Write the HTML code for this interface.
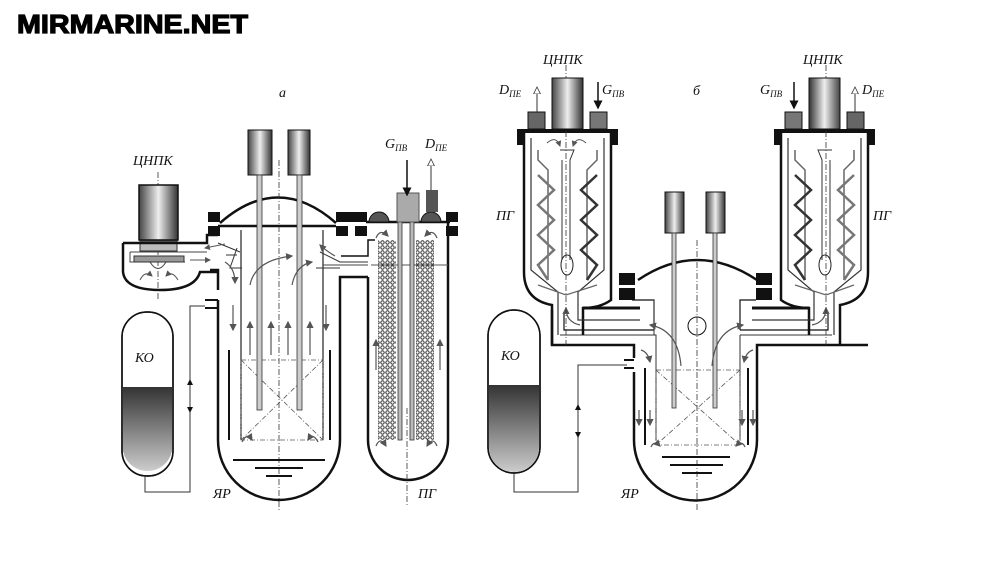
<!DOCTYPE html>
<html><head><meta charset="utf-8"><style>
html,body{margin:0;padding:0;background:#fff;width:1000px;height:580px;overflow:hidden}
svg{display:block}
.lb{font-family:"Liberation Serif",serif;font-style:italic;font-size:14px;fill:#111}
.sub{font-size:9px}
</style></head><body>
<svg width="1000" height="580" viewBox="0 0 1000 580" xmlns="http://www.w3.org/2000/svg">
<defs>
<linearGradient id="cyl" x1="0" x2="1"><stop offset="0" stop-color="#444"/><stop offset=".5" stop-color="#eee"/><stop offset="1" stop-color="#333"/></linearGradient>
<linearGradient id="ko" x1="0" y1="0" x2="0" y2="1"><stop offset="0" stop-color="#333"/><stop offset="1" stop-color="#ccc"/></linearGradient>
<marker id="ar" markerWidth="6" markerHeight="6" refX="5" refY="3" orient="auto"><path d="M0,0L6,3L0,6z" fill="#555"/></marker>
<marker id="ab" markerWidth="6" markerHeight="6" refX="5" refY="3" orient="auto"><path d="M0,0L6,3L0,6z" fill="#111"/></marker>
<marker id="aw" markerWidth="8" markerHeight="8" refX="6" refY="4" orient="auto"><path d="M0,0.5L7,4L0,7.5z" fill="#fff" stroke="#333" stroke-width="0.8"/></marker>
<pattern id="dots" width="5" height="5" patternUnits="userSpaceOnUse"><circle cx="2.5" cy="2.5" r="1.7" fill="none" stroke="#333" stroke-width="1"/></pattern>
</defs>
<text x="17" y="33" font-family="Liberation Sans,sans-serif" font-weight="bold" font-size="26" stroke="#000" stroke-width="1.2" textLength="231" lengthAdjust="spacingAndGlyphs">MIRMARINE.NET</text>

<!-- ===== (a) ===== -->
<text class="lb" x="279" y="97">a</text>
<rect x="122" y="312" width="51" height="164" rx="25" fill="#fff" stroke="#111" stroke-width="1.5"/>
<path d="M123,387H172V451A25,25 0 0 1 123,451Z" fill="url(#ko)"/>
<rect x="122" y="312" width="51" height="164" rx="25" fill="none" stroke="#111" stroke-width="1.5"/>
<text class="lb" x="135" y="362">КО</text>
<path d="M145,476V492H190V306H205" fill="none" stroke="#333" stroke-width="1"/>
<path d="M190,390V380" stroke="#333" marker-end="url(#ab)"/>
<path d="M190,400V412" stroke="#333" marker-end="url(#ab)"/>
<path d="M218,300V440A61,60 0 0 0 340,440V277H368" fill="none" stroke="#111" stroke-width="2.5"/>
<path d="M205,300H218M205,308H218" stroke="#111" stroke-width="2"/>
<path d="M218,290V270H210" fill="none" stroke="#111" stroke-width="2.5"/>
<path d="M220,223Q278,172 336,223" fill="none" stroke="#111" stroke-width="2.5"/>
<path d="M218,226H336" stroke="#111" stroke-width="2.5"/>
<rect x="208" y="212" width="12" height="10" fill="#111"/><rect x="208" y="226" width="12" height="10" fill="#111"/>
<rect x="336" y="212" width="12" height="10" fill="#111"/><rect x="336" y="226" width="12" height="10" fill="#111"/>
<rect x="355" y="212" width="12" height="10" fill="#111"/><rect x="355" y="226" width="12" height="10" fill="#111"/>
<path d="M241,230V440M323,230V440" stroke="#222" stroke-width="1.2"/>
<path d="M229,350V440M330,350V440" stroke="#111" stroke-width="2"/>
<path d="M241,360H323V440H241ZM241,360L323,440M323,360L241,440" fill="none" stroke="#555" stroke-dasharray="5,2,1,2" stroke-width="0.8"/>
<path d="M279,160V510" stroke="#333" stroke-dasharray="6,2,1,2" stroke-width="0.8"/>
<path d="M242,268H230L237,248M316,268H340" fill="none" stroke="#333" stroke-width="1"/>
<path d="M237,255H226M240,252L218,243" fill="none" stroke="#333"/>
<path d="M320,252L340,262H368" fill="none" stroke="#333"/>
<path d="M323,265H368" stroke="#444"/>
<line x1="233" y1="460" x2="325" y2="460" stroke="#111" stroke-width="2"/>
<line x1="255" y1="468" x2="303" y2="468" stroke="#111" stroke-width="2"/>
<line x1="266" y1="476" x2="292" y2="476" stroke="#111" stroke-width="2"/>
<rect x="248" y="130" width="24" height="45" fill="url(#cyl)" stroke="#111"/>
<rect x="288" y="130" width="22" height="45" fill="url(#cyl)" stroke="#111"/>
<rect x="257" y="175" width="5" height="235" fill="#ccc" stroke="#333" stroke-width=".8"/>
<rect x="297" y="175" width="5" height="235" fill="#ccc" stroke="#333" stroke-width=".8"/>
<g stroke="#555" stroke-width="1.2" fill="none" marker-end="url(#ar)">
<path d="M233,305V330"/><path d="M326,305V330"/>
<path d="M250,355V322"/><path d="M271,355V322"/><path d="M288,355V322"/><path d="M310,355V322"/>
<path d="M250,285Q255,260 292,256"/><path d="M292,285Q296,265 312,262"/>
<path d="M225,262Q235,268 235,283"/><path d="M335,256Q325,250 320,245"/>
<path d="M242,442Q247,432 252,440"/><path d="M318,442Q313,432 308,440"/>
<path d="M376,370V340"/><path d="M440,370V340"/>
<path d="M376,446Q380,436 386,446"/><path d="M437,446Q433,436 427,446"/>
<path d="M376,238Q380,228 388,236"/><path d="M437,238Q433,228 425,236"/>
</g>
<text class="lb" x="133" y="165">ЦНПК</text>
<path d="M158,172V300" stroke="#333" stroke-dasharray="6,2,1,2" stroke-width="0.8"/>
<rect x="139" y="185" width="39" height="55" fill="url(#cyl)" stroke="#111" stroke-width="1.5"/>
<rect x="140" y="241" width="37" height="10" fill="#bbb" stroke="#333"/>
<path d="M123,243H207V235H218M123,243V272Q125,290 160,290Q195,290 200,272H218" fill="none" stroke="#111" stroke-width="2.5"/>
<path d="M130,252H207M130,252V262H150Q158,275 166,262H185" fill="none" stroke="#444"/>
<rect x="134" y="256" width="50" height="6" fill="#999" stroke="#333"/>
<g stroke="#555" fill="none" marker-end="url(#ar)"><path d="M190,260H210"/><path d="M225,244L205,248"/><path d="M140,280Q145,270 152,276"/><path d="M178,280Q172,270 166,276"/></g>
<path d="M368,277V440A40,40 0 0 0 448,440V222" fill="none" stroke="#111" stroke-width="2.5"/>
<path d="M366,222H450" stroke="#111" stroke-width="2.5"/>
<rect x="346" y="212" width="12" height="10" fill="#111"/><rect x="446" y="212" width="12" height="10" fill="#111"/><rect x="446" y="226" width="12" height="10" fill="#111"/>
<path d="M341,256H368V240H375" fill="none" stroke="#111" stroke-width="1.5"/>
<path d="M371,265H448" stroke="#555"/>
<rect x="378" y="240" width="18" height="200" fill="url(#dots)"/>
<rect x="416" y="240" width="18" height="200" fill="url(#dots)"/>
<rect x="398" y="222" width="4" height="218" fill="#bbb" stroke="#333" stroke-width=".8"/>
<rect x="410" y="222" width="4" height="218" fill="#bbb" stroke="#333" stroke-width=".8"/>
<path d="M369,222A10,10 0 0 1 389,222Z" fill="#555" stroke="#111"/>
<path d="M421,222A10,10 0 0 1 441,222Z" fill="#555" stroke="#111"/>
<rect x="397" y="193" width="22" height="29" fill="#aaa" stroke="#555"/>
<rect x="426" y="190" width="12" height="22" fill="#555"/>
<path d="M407,408V505" stroke="#333" stroke-dasharray="6,2,1,2" stroke-width="0.8"/>
<path d="M407,160V195" stroke="#111" stroke-width="1.5" marker-end="url(#ab)"/>
<path d="M431,190V160" stroke="#333" stroke-width="1" marker-end="url(#aw)"/>
<text class="lb" x="385" y="148">G<tspan class="sub" dy="3">ПВ</tspan></text>
<text class="lb" x="425" y="148">D<tspan class="sub" dy="3">ПЕ</tspan></text>
<text class="lb" x="213" y="498">ЯР</text>
<text class="lb" x="418" y="498">ПГ</text>

<!-- ===== (б) ===== -->
<text class="lb" x="693" y="95">б</text>
<rect x="488" y="310" width="52" height="163" rx="26" fill="#fff" stroke="#111" stroke-width="1.5"/>
<path d="M489,385H539V447A25,25 0 0 1 489,447Z" fill="url(#ko)"/>
<rect x="488" y="310" width="52" height="163" rx="26" fill="none" stroke="#111" stroke-width="1.5"/>
<text class="lb" x="501" y="360">КО</text>
<path d="M514,473V492H578V365H627" fill="none" stroke="#333"/>
<path d="M578,415V405" stroke="#333" marker-end="url(#ab)"/>
<path d="M578,425V437" stroke="#333" marker-end="url(#ab)"/>
<path d="M624,360H634M624,368H634" stroke="#111" stroke-width="2"/>
<path d="M634,372V440A61,60 0 0 0 757,440V345H868" fill="none" stroke="#111" stroke-width="2.5"/>
<path d="M634,358V345H552V310" fill="none" stroke="#111" stroke-width="2.5"/>
<path d="M638,280Q697,240 757,280" fill="none" stroke="#111" stroke-width="2.5"/>
<rect x="619" y="273" width="16" height="12" fill="#111"/><rect x="619" y="288" width="16" height="12" fill="#111"/>
<rect x="756" y="273" width="16" height="12" fill="#111"/><rect x="756" y="288" width="16" height="12" fill="#111"/>
<path d="M632,300H654V330H564V312M740,330H828V312M740,330V300H756" fill="none" stroke="#111" stroke-width="1.2"/>
<path d="M560,335H656V440M654,335V300M740,335V440M740,335H832" fill="none" stroke="#333"/>
<path d="M645,368V445M748,368V445" stroke="#111" stroke-width="2"/>
<path d="M656,370H740V445H656ZM656,370L740,445M740,370L656,445" fill="none" stroke="#555" stroke-dasharray="5,2,1,2" stroke-width="0.8"/>
<path d="M697,240V510" stroke="#333" stroke-dasharray="6,2,1,2" stroke-width="0.8"/>
<circle cx="697" cy="326" r="9" fill="none" stroke="#111"/>
<line x1="662" y1="457" x2="730" y2="457" stroke="#111" stroke-width="2"/>
<line x1="670" y1="465" x2="723" y2="465" stroke="#111" stroke-width="2"/>
<line x1="682" y1="473" x2="712" y2="473" stroke="#111" stroke-width="2"/>
<rect x="665" y="192" width="19" height="41" fill="url(#cyl)" stroke="#111"/>
<rect x="706" y="192" width="19" height="41" fill="url(#cyl)" stroke="#111"/>
<rect x="672" y="233" width="4" height="175" fill="#ccc" stroke="#333" stroke-width=".8"/>
<rect x="713" y="233" width="4" height="175" fill="#ccc" stroke="#333" stroke-width=".8"/>
<g stroke="#555" stroke-width="1.2" fill="none" marker-end="url(#ar)">
<path d="M681,366Q678,330 650,325"/><path d="M712,366Q715,330 743,325"/>
<path d="M641,350Q648,352 650,362"/><path d="M753,350Q746,352 744,362"/>
<path d="M639,410V425"/><path d="M650,410V425"/><path d="M742,410V425"/><path d="M753,410V425"/>
<path d="M651,447Q654,440 660,446"/><path d="M745,447Q742,440 736,446"/>
<path d="M580,325Q566,322 566,308"/><path d="M812,325Q826,322 826,308"/>
</g>
<g id="sg">
<path d="M524,133V272Q524,300 552,305V345M611,133V300Q600,308 583,308V335" fill="none" stroke="#111" stroke-width="2.5"/>
<path d="M583,308H640" stroke="#111" stroke-width="3"/>
<path d="M531,138V270L558,292V335M604,138V270L578,292V320H640" fill="none" stroke="#333" stroke-width="1.2"/>
<rect x="517" y="129" width="101" height="4" fill="#111"/>
<rect x="517" y="133" width="7" height="12" fill="#111"/><rect x="611" y="133" width="7" height="12" fill="#111"/>
<path d="M538,150V160L548,170V280M597,150V160L587,170V280" fill="none" stroke="#666" stroke-width="1.5"/>
<path d="M538,175L554,190L538,205L554,220L538,235L554,250L538,265L548,280" fill="none" stroke="#777" stroke-width="2.5"/>
<path d="M597,175L581,190L597,205L581,220L597,235L581,250L597,265L587,280" fill="none" stroke="#333" stroke-width="2.5"/>
<path d="M538,285L566,295L597,285" fill="none" stroke="#666" stroke-width="1.2"/>
<path d="M560,150H574L570,160V260M562,160V260" fill="none" stroke="#333"/>
<ellipse cx="567" cy="265" rx="6" ry="10" fill="none" stroke="#222"/>
<path d="M566,65V345" stroke="#333" stroke-dasharray="6,2,1,2" stroke-width="0.8"/>
<rect x="552" y="78" width="31" height="51" fill="url(#cyl)" stroke="#111"/>
<rect x="528" y="112" width="17" height="17" fill="#666" stroke="#111"/>
<rect x="590" y="112" width="17" height="17" fill="#777" stroke="#111"/>
</g>
<g stroke="#555" fill="none" marker-end="url(#ar)"><path d="M547,143Q556,135 560,146"/><path d="M586,143Q577,135 573,146"/></g>
<path d="M537,112V88" stroke="#333" marker-end="url(#aw)"/>
<path d="M598,82V108" stroke="#111" stroke-width="1.5" marker-end="url(#ab)"/>
<g transform="translate(1392,0) scale(-1,1)">
<path d="M524,133V272Q524,300 552,305V345M611,133V300Q600,308 583,308V335" fill="none" stroke="#111" stroke-width="2.5"/>
<path d="M583,308H640" stroke="#111" stroke-width="3"/>
<path d="M531,138V270L558,292V335M604,138V270L578,292V320H640" fill="none" stroke="#333" stroke-width="1.2"/>
<rect x="517" y="129" width="101" height="4" fill="#111"/>
<rect x="517" y="133" width="7" height="12" fill="#111"/><rect x="611" y="133" width="7" height="12" fill="#111"/>
<path d="M538,150V160L548,170V280M597,150V160L587,170V280" fill="none" stroke="#666" stroke-width="1.5"/>
<path d="M538,175L554,190L538,205L554,220L538,235L554,250L538,265L548,280" fill="none" stroke="#777" stroke-width="2.5"/>
<path d="M597,175L581,190L597,205L581,220L597,235L581,250L597,265L587,280" fill="none" stroke="#333" stroke-width="2.5"/>
<path d="M538,285L566,295L597,285" fill="none" stroke="#666" stroke-width="1.2"/>
<path d="M560,150H574L570,160V260M562,160V260" fill="none" stroke="#333"/>
<ellipse cx="567" cy="265" rx="6" ry="10" fill="none" stroke="#222"/>
<path d="M566,65V345" stroke="#333" stroke-dasharray="6,2,1,2" stroke-width="0.8"/>
<rect x="552" y="78" width="31" height="51" fill="url(#cyl)" stroke="#111"/>
<rect x="528" y="112" width="17" height="17" fill="#666" stroke="#111"/>
<rect x="590" y="112" width="17" height="17" fill="#777" stroke="#111"/>
<path d="M537,112V88" stroke="#333" marker-end="url(#aw)"/>
<path d="M598,82V108" stroke="#111" stroke-width="1.5" marker-end="url(#ab)"/>
</g>
<text class="lb" x="543" y="64">ЦНПК</text>
<text class="lb" x="803" y="64">ЦНПК</text>
<text class="lb" x="499" y="94">D<tspan class="sub" dy="3">ПЕ</tspan></text>
<text class="lb" x="602" y="94">G<tspan class="sub" dy="3">ПВ</tspan></text>
<text class="lb" x="760" y="94">G<tspan class="sub" dy="3">ПВ</tspan></text>
<text class="lb" x="862" y="94">D<tspan class="sub" dy="3">ПЕ</tspan></text>
<text class="lb" x="496" y="220">ПГ</text>
<text class="lb" x="873" y="220">ПГ</text>
<text class="lb" x="621" y="498">ЯР</text>
</svg>
</body></html>
